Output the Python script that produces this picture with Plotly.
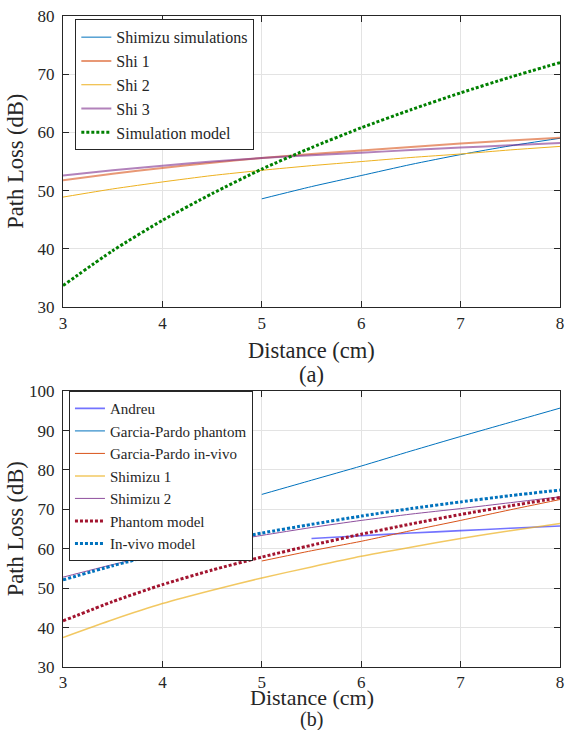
import plotly.graph_objects as go

# ---------------- data ----------------
dist = [3, 3.5, 4, 4.5, 5, 5.5, 6, 6.5, 7, 7.5, 8]
dist_from5 = [5, 5.5, 6, 6.5, 7, 7.5, 8]
dist_from55 = [5.5, 6, 6.5, 7, 7.5, 8]

# panel (a)
shimizu_sim = [48.6, 50.7, 52.6, 54.5, 56.2, 57.7, 59.0]
shi1 = [51.8, 52.9, 53.9, 54.8, 55.6, 56.3, 56.9, 57.5, 58.1, 58.6, 59.1]
shi2 = [48.9, 50.3, 51.5, 52.6, 53.5, 54.3, 55.0, 55.7, 56.3, 57.0, 57.6]
shi3 = [52.6, 53.5, 54.3, 55.0, 55.6, 56.1, 56.5, 57.0, 57.4, 57.8, 58.2]
sim_model = [33.7, 39.7, 44.9, 49.5, 53.7, 57.4, 60.8, 63.9, 66.8, 69.5, 72.0]

# panel (b)
andreu = [62.6, 63.3, 64.0, 64.6, 65.2, 65.8]
gp_phantom = [73.8, 77.4, 81.0, 84.8, 88.5, 92.1, 95.7]
gp_invivo = [56.9, 59.5, 61.9, 64.6, 67.2, 69.9, 72.5]
shimizu1 = [37.5, 42.0, 46.1, 49.5, 52.6, 55.4, 58.1, 60.4, 62.6, 64.6, 66.4]
shimizu2 = [52.8, 56.0, 58.9, 61.3, 63.4, 65.4, 67.2, 68.8, 70.2, 71.7, 73.2]
phantom_model = [41.7, 46.6, 50.9, 54.6, 57.9, 60.9, 63.7, 66.3, 68.7, 70.9, 73.0]
invivo_model = [52.1, 55.7, 58.9, 61.6, 64.0, 66.2, 68.3, 70.2, 71.9, 73.5, 74.9]

x_ticks = [3, 4, 5, 6, 7, 8]
y_ticks_a = [30, 40, 50, 60, 70, 80]
y_ticks_b = [30, 40, 50, 60, 70, 80, 90, 100]

# ---------------- figure ----------------
FONT = "'Times New Roman', 'Liberation Serif', 'DejaVu Serif', serif"
DARK = "#262626"
fig = go.Figure()

def add(x, y, name, color, width, dash, xa, ya, leg):
    fig.add_trace(go.Scatter(x=x, y=y, name=name, mode="lines",
                             line=dict(color=color, width=width, dash=dash,
                                       shape="spline", smoothing=0.6),
                             xaxis=xa, yaxis=ya, legend=leg))

DOT = "3px,2px"
add(dist_from5, shimizu_sim, "Shimizu simulations", "#0072BD", 1, "solid", "x", "y", "legend")
add(dist, shi1, "Shi 1", "rgba(217,83,25,0.6)", 2, "solid", "x", "y", "legend")
add(dist, shi2, "Shi 2", "#EDB120", 1, "solid", "x", "y", "legend")
add(dist, shi3, "Shi 3", "rgba(126,47,142,0.6)", 2, "solid", "x", "y", "legend")
add(dist, sim_model, "Simulation model", "#008000", 3, DOT, "x", "y", "legend")

add(dist_from55, andreu, "Andreu", "rgba(0,0,255,0.55)", 1.6, "solid", "x2", "y2", "legend2")
add(dist_from5, gp_phantom, "Garcia-Pardo phantom", "#0072BD", 1, "solid", "x2", "y2", "legend2")
add(dist_from5, gp_invivo, "Garcia-Pardo in-vivo", "#D95319", 1, "solid", "x2", "y2", "legend2")
add(dist, shimizu1, "Shimizu 1", "rgba(237,177,32,0.7)", 1.5, "solid", "x2", "y2", "legend2")
add(dist, shimizu2, "Shimizu 2", "#8E4F9E", 1, "solid", "x2", "y2", "legend2")
add(dist, phantom_model, "Phantom model", "#A2142F", 3, DOT, "x2", "y2", "legend2")
add(dist, invivo_model, "In-vivo model", "#0072BD", 3, DOT, "x2", "y2", "legend2")

axis_common = dict(showline=True, linecolor=DARK, linewidth=1, mirror="ticks",
                   ticks="inside", ticklen=6, tickcolor=DARK, tickwidth=1,
                   showgrid=True, gridcolor="#e3e3e3", gridwidth=1, zeroline=False,
                   tickfont=dict(family=FONT, size=17, color=DARK))

top_dom = [0.5528, 1.0]
bot_dom = [0.0, 0.4237]

fig.update_layout(
    width=570, height=730,
    margin=dict(l=63, r=6, t=16, b=63),
    paper_bgcolor="white", plot_bgcolor="white",
    font=dict(family=FONT, color=DARK),
    showlegend=True,
    xaxis=dict(axis_common, range=[3, 8], tickvals=x_ticks, domain=[0, 1], anchor="y"),
    yaxis=dict(axis_common, range=[30, 80], tickvals=y_ticks_a, domain=top_dom, anchor="x",
               ticklabelstandoff=4),
    xaxis2=dict(axis_common, range=[3, 8], tickvals=x_ticks, domain=[0, 1], anchor="y2"),
    yaxis2=dict(axis_common, range=[30, 100], tickvals=y_ticks_b, domain=bot_dom, anchor="x2",
                ticklabelstandoff=4),
    legend=dict(x=0.0248, y=0.995, xanchor="left", yanchor="top",
                bgcolor="white", bordercolor=DARK, borderwidth=1,
                font=dict(family=FONT, size=16, color=DARK), tracegroupgap=0),
    legend2=dict(x=0.012, y=0.4237, xanchor="left", yanchor="top",
                 bgcolor="white", bordercolor=DARK, borderwidth=1,
                 font=dict(family=FONT, size=15, color=DARK), tracegroupgap=0),
)

def ann(text, x, y, angle=0, size=22.5):
    fig.add_annotation(text=text, x=x, y=y, xref="paper", yref="paper",
                       xanchor="center", yanchor="middle", showarrow=False,
                       textangle=angle, font=dict(family=FONT, size=size, color=DARK))

ann("Distance (cm)", 0.501, 0.4867)
ann("(a)", 0.501, 0.4498)
ann("Distance (cm)", 0.501, -0.0470, size=22)
ann("(b)", 0.501, -0.0808, size=20)
ann("Path Loss (dB)", -0.0964, (top_dom[0] + top_dom[1]) / 2, -90)
ann("Path Loss (dB)", -0.0964, (bot_dom[0] + bot_dom[1]) / 2, -90)

fig.write_html("out.html")
